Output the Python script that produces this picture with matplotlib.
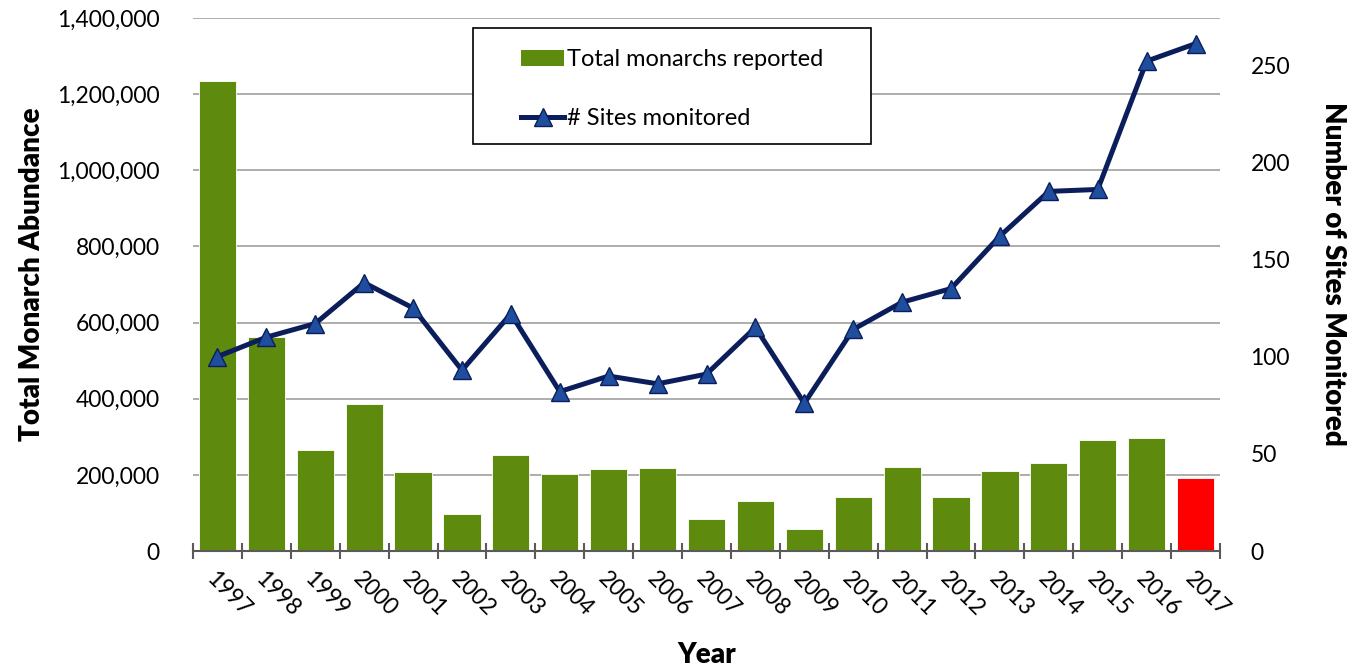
import matplotlib
matplotlib.use("Agg")
import matplotlib.pyplot as plt
from matplotlib.patches import Patch, Rectangle
from matplotlib.lines import Line2D
from matplotlib.ticker import FuncFormatter, MultipleLocator

years = [1997, 1998, 1999, 2000, 2001, 2002, 2003, 2004, 2005, 2006, 2007,
         2008, 2009, 2010, 2011, 2012, 2013, 2014, 2015, 2016, 2017]
monarchs = [1235000, 562000, 265000, 386000, 207000, 97000, 252000, 202000,
            215000, 218000, 84000, 131000, 58000, 142000, 220000, 142000,
            210000, 231000, 291000, 297000, 192000]
sites = [100, 110, 117, 138, 125, 93, 122, 82, 90, 86, 91, 115, 76, 114,
         128, 135, 162, 185, 186, 252, 261]

plt.rcParams['font.family'] = ['Lato', 'DejaVu Sans']

GREEN = '#5E8B0E'
RED = '#FF0000'
NAVY = '#0B1E5B'
BLUE = '#1F4E9E'

fig = plt.figure(figsize=(13.54, 6.66), dpi=100)
ax = fig.add_axes([193/1354, 1-551/666, (1220-193)/1354, (551-18)/666])
ax2 = ax.twinx()

x = list(range(len(years)))
colors = [GREEN]*(len(years)-1) + [RED]
ax.bar(x, monarchs, width=0.76, color=colors, edgecolor='white', linewidth=0.6, zorder=2)
ax.set_xlim(-0.5, len(years)-0.5)
ax.set_ylim(0, 1400000)
ax.yaxis.set_major_locator(MultipleLocator(200000))
ax.yaxis.set_major_formatter(FuncFormatter(lambda v, p: f"{int(v):,}"))
ax.grid(axis='y', color='#A0A0A0', linewidth=1.2, zorder=0)
ax.set_axisbelow(True)
for s in ['top', 'left', 'right']:
    ax.spines[s].set_visible(False)
ax.spines['bottom'].set_color('#5A5A5A')
ax.spines['bottom'].set_linewidth(1.5)
ax.tick_params(axis='y', length=0, labelsize=16.5, pad=24)
ax.set_xticks([i - 0.5 for i in range(len(years)+1)], minor=False)
ax.set_xticklabels([])
ax.tick_params(axis='x', which='major', direction='inout', length=12, width=1.5, color='#5A5A5A')
ax.set_xticks(x, minor=True)
ax.set_xticklabels([str(y) for y in years], minor=True, rotation=-45, ha='left', va='top',
                   rotation_mode='anchor', fontsize=16.5)
ax.tick_params(axis='x', which='minor', length=0, pad=12)
ax.set_ylabel('Total Monarch Abundance', fontsize=20, fontweight='heavy', labelpad=9,
              y=0.52, ha='center')
ax.set_xlabel('Year', fontsize=20, fontweight='heavy', labelpad=16)

ax2.plot(x, sites, color=NAVY, linewidth=3.6, marker='^', markersize=13,
         markerfacecolor=BLUE, markeredgecolor=NAVY, markeredgewidth=1.0, zorder=3)
ax2.set_ylim(0, 274.2)
ax2.yaxis.set_major_locator(MultipleLocator(50))
for s in ['top', 'left', 'right', 'bottom']:
    ax2.spines[s].set_visible(False)
ax2.tick_params(axis='y', length=0, labelsize=16.5, pad=22)
ax2.set_ylabel('Number of Sites Monitored', fontsize=20, fontweight='heavy', rotation=-90,
               labelpad=40, y=0.52, ha='center')

# Legend box
fig.patches.append(Rectangle((473/1354, 1-144/666), (871-473)/1354, (144-28)/666,
                             transform=fig.transFigure, facecolor='white', edgecolor='black',
                             linewidth=1.2, zorder=5))
handles = [Patch(facecolor=GREEN, edgecolor='none'),
           Line2D([0], [0], color=NAVY, linewidth=3.6, marker='^', markersize=13,
                  markerfacecolor=BLUE, markeredgecolor=NAVY)]
leg = fig.legend(handles, ['Total monarchs reported', '# Sites monitored'],
                 loc='upper left', bbox_to_anchor=(512/1354, 1-40/666), frameon=False,
                 fontsize=17, labelspacing=1.6, handlelength=1.8, handletextpad=0.15,
                 borderaxespad=0)
leg.set_zorder(6)

fig.savefig('out.png', dpi=100)
